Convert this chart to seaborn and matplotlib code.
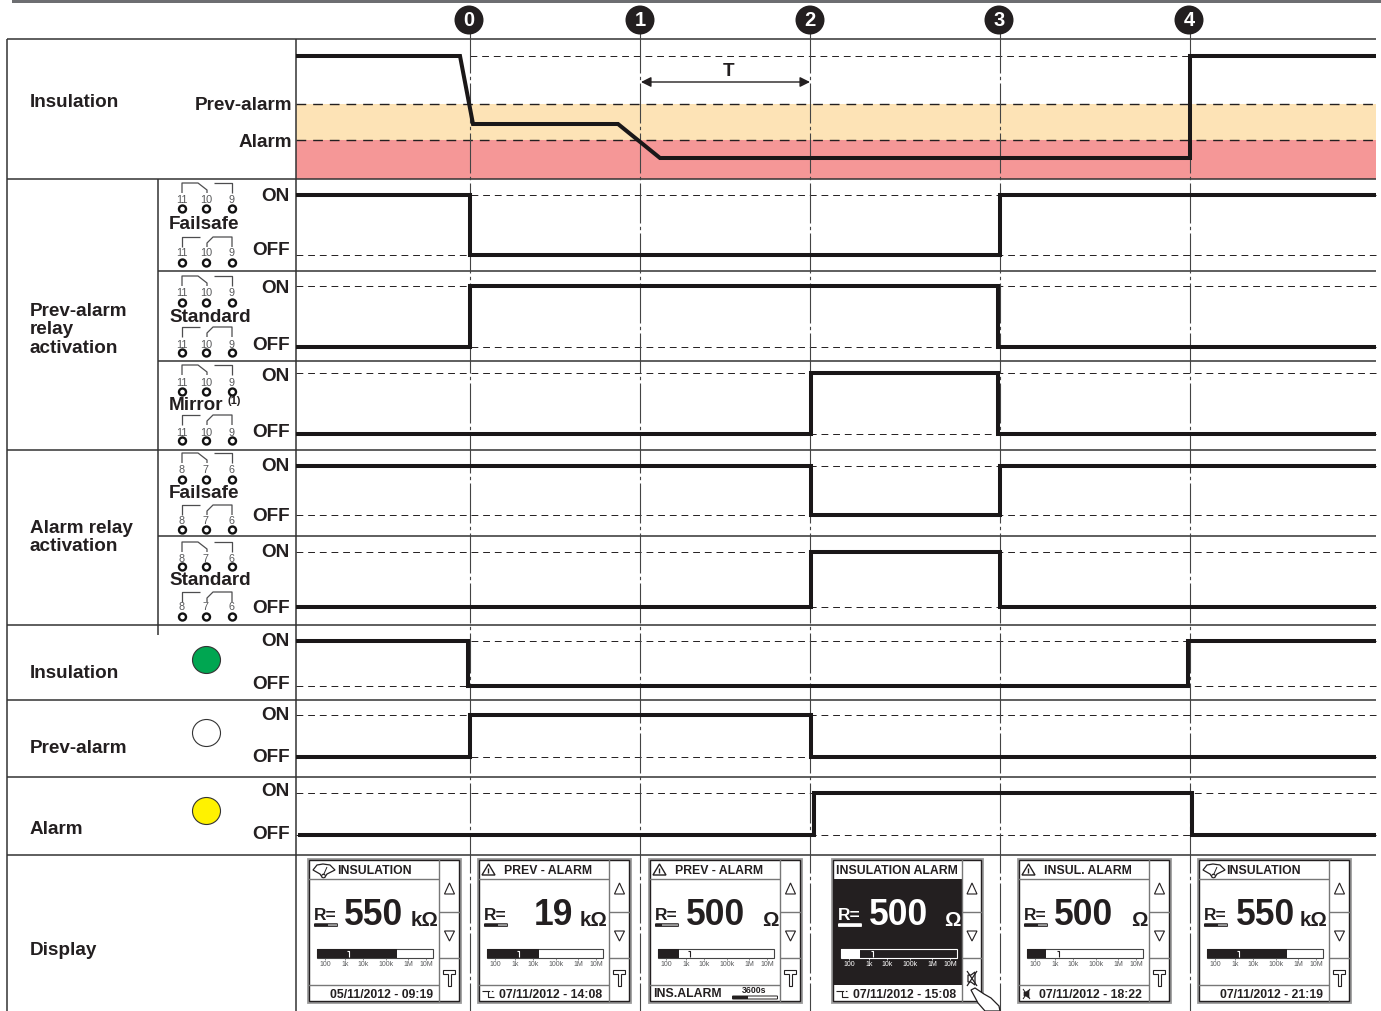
import matplotlib
matplotlib.use("Agg")
import matplotlib.pyplot as plt
from matplotlib.patches import Rectangle, Polygon, Circle, Ellipse, FancyBboxPatch
import pandas as pd
import seaborn as sns

# ---------------- data ----------------
event_labels = ["0", "1", "2", "3", "4"]
event_times = [470, 640, 810, 1000, 1190]

insulation_times = [296, 460, 473, 618, 660, 1190, 1190, 1376]
insulation_levels = [56, 56, 124, 124, 158, 158, 56, 56]

sig_names = ["prev_failsafe", "prev_standard", "prev_mirror", "alarm_failsafe",
             "alarm_standard", "led_insulation", "led_prev", "led_alarm"]
sig_edges = [[296, 470, 1000, 1376], [296, 470, 998, 1376], [296, 811, 998, 1376],
             [296, 811, 1000, 1376], [296, 811, 1000, 1376], [296, 468, 1188, 1376],
             [296, 470, 811, 1376], [298, 814, 1192, 1376]]
sig_states = [[1, 0, 1], [0, 1, 0], [0, 1, 0], [1, 0, 1], [0, 1, 0], [1, 0, 1], [0, 1, 0], [0, 1, 0]]

disp_titles = ["INSULATION", "PREV - ALARM", "PREV - ALARM", "INSULATION ALARM", "INSUL. ALARM", "INSULATION"]
disp_values = ["550", "19", "500", "500", "500", "550"]
disp_units = ["kΩ", "kΩ", "Ω", "Ω", "Ω", "kΩ"]
disp_dates = ["05/11/2012 - 09:19", "07/11/2012 - 14:08", "", "07/11/2012 - 15:08",
              "07/11/2012 - 18:22", "07/11/2012 - 21:19"]
disp_bar = [0.69, 0.445, 0.185, 0.165, 0.167, 0.69]
bar_ticks = ["100", "1k", "10k", "100k", "1M", "10M"]

# ---------------- layout ----------------
sns.set_theme(style="white")
plt.rcParams["font.family"] = ["Liberation Sans", "DejaVu Sans"]
INK = "#231f20"
fig, ax = plt.subplots(figsize=(13.81, 10.11), dpi=100)
ax.set_position([0, 0, 1, 1])
ax.set_xlim(0, 1381)
ax.set_ylim(1011, 0)
ax.axis("off")

sig_on = [195, 286, 373, 466, 552, 641, 715, 793]
sig_off = [255, 347, 434, 515, 607, 686, 757, 835]


def T(x, y, s, size=13.6, ha="left", va="center", color=INK, weight="bold", z=6, **kw):
    ax.text(x, y + 1.2, s, fontsize=size, ha=ha, va=va, color=color, fontweight=weight, zorder=z, **kw)


def L(xs, ys, color=INK, lw=1.0, z=3, **kw):
    ax.plot(xs, ys, color=color, lw=lw, zorder=z, solid_capstyle="butt", **kw)


# top bar
ax.add_patch(Rectangle((12, 0), 1369, 3, fc="#6d6e71", ec="none"))

# bands
ax.add_patch(Rectangle((296, 104), 1080, 36, fc="#fde3b6", ec="none", zorder=1))
ax.add_patch(Rectangle((296, 140), 1080, 39, fc="#f59797", ec="none", zorder=1))

# grid rules
for y, x0 in [(39, 7), (179, 7), (271, 158), (361, 158), (450, 7), (536, 158),
              (625, 7), (700, 7), (777, 7), (855, 7)]:
    L([x0, 1376], [y, y], lw=1.1, color="#333333")
for x, y0, y1 in [(7, 39, 1011), (158, 179, 635), (296, 39, 1011)]:
    L([x, x], [y0, y1], lw=1.1, color="#333333")

# reference dashed levels
dash = (0, (7, 5))
L([470, 1190], [56, 56], lw=0.7, ls=dash, z=2)
L([296, 1376], [104, 104], lw=1.0, ls=dash, z=2)
L([296, 1376], [140, 140], lw=1.0, ls=dash, z=2)
for on, off in zip(sig_on, sig_off):
    L([296, 1376], [on, on], lw=0.7, ls=dash, z=2)
    L([296, 1376], [off, off], lw=0.7, ls=dash, z=2)

# event lines + badges
for lab, x in zip(event_labels, event_times):
    L([x, x], [33, 1011], lw=0.8, color="#444444", ls=(0, (36, 3, 3, 3)), z=4)
    bx_ = x - (1 if x in (470, 1000, 1190) else 0)
    ax.add_patch(Circle((bx_, 20), 14.5, fc=INK, ec="none", zorder=6))
    T(bx_, 19.8, lab, size=14.5, ha="center", color="white", z=7)

# signals via seaborn
frames = [pd.DataFrame({"t": insulation_times, "v": insulation_levels, "name": "insulation"})]
for name, edges, states, on, off in zip(sig_names, sig_edges, sig_states, sig_on, sig_off):
    ts, vs = [], []
    for i, st in enumerate(states):
        ts += [edges[i], edges[i + 1]]
        vs += [on if st else off] * 2
    frames.append(pd.DataFrame({"t": ts, "v": vs, "name": name}))
for fr in frames:
    sns.lineplot(data=fr, x="t", y="v", estimator=None, sort=False, ax=ax, color="#1a1718",
                 lw=2.9, zorder=5, legend=False, solid_joinstyle="miter", solid_capstyle="butt")
ax.set_xlim(0, 1381)
ax.set_ylim(1011, 0)
ax.axis("off")

# T arrow
ax.annotate("", xy=(641, 82), xytext=(810, 82),
            arrowprops=dict(arrowstyle="<|-|>", color=INK, lw=1, mutation_scale=15, shrinkA=0, shrinkB=0), zorder=6)
T(729, 70.5, "T", size=13.6, ha="center")

# left labels
T(30, 101, "Insulation")
T(292, 104.5, "Prev-alarm", ha="right")
T(292, 141.5, "Alarm", ha="right")
for y, s in [(310, "Prev-alarm"), (328, "relay"), (347, "activation"), (527, "Alarm relay"),
             (545, "activation"), (672, "Insulation"), (747, "Prev-alarm"), (828, "Alarm"), (949, "Display")]:
    T(30, y, s)
for y in [195.5, 287.5, 375, 465.5, 551.5, 640.5, 714.5, 790.5]:
    T(290, y, "ON", ha="right")
for y in [249.5, 344, 431, 515.5, 607.5, 683.5, 756.5, 833.5]:
    T(290, y, "OFF", ha="right")
T(169, 223.5, "Failsafe"); T(169, 316.5, "Standard"); T(169, 404.5, "Mirror")
T(228, 400, "(1)", size=8)
T(169, 492.5, "Failsafe"); T(169, 579.5, "Standard")


# relay icons
def relay(top, lab_y, circ_y, labels, closed):
    g = "#4d4d4f"
    leg = top + 10
    if closed:
        L([182, 182, 198, 207, 207], [leg, top, top, top + 7, leg], color=g, lw=0.9)
        L([214, 232, 232], [top, top, leg], color=g, lw=0.9)
    else:
        L([182, 182, 200], [leg, top, top], color=g, lw=0.9)
        L([207, 207, 213, 232, 232], [leg, top + 6, top, top, leg], color=g, lw=0.9)
    for x, s in zip([182, 206, 232], labels):
        T(x, lab_y - 1, s, size=7.8, ha="center", color="#58595b", weight="normal")
        ax.add_patch(Circle((x + 0.5, circ_y), 3.5, fc="white", ec="#111111", lw=1.7, zorder=6))


a, b = ["11", "10", "9"], ["8", "7", "6"]
for top, ly, cy, labs, st in [(183, 200, 209, a, True), (237, 253, 263, a, False),
                              (276, 293, 303, a, True), (327, 345, 353, a, False),
                              (365, 383, 392, a, True), (415, 433, 441, a, False),
                              (453, 470, 480, b, True), (505, 521, 530, b, False),
                              (542, 559, 567, b, True), (592, 607, 617, b, False)]:
    relay(top, ly, cy, labs, st)

# LEDs
for y, c in [(660, "#00a651"), (733, "white"), (811, "#fff200")]:
    ax.add_patch(Ellipse((206.5, y), 28, 27, fc=c, ec="#333333", lw=0.8, zorder=6))

# displays
lefts = [308, 478, 649, 832, 1018, 1198]
title_dx = [30, 27, 27, 5, 27, 29]
val_x = [345, 535, 687, 870, 1055, 1237]
unit_x = [412, 581, 763, 945, 1132, 1301]
date_dx = [22, 21, 0, 21, 21, 22]
tick_dx = [8, 28, 46, 69, 91, 109]
Z = 7
for i, x0 in enumerate(lefts):
    W, col = (150, 130) if i == 3 else (152, 131)
    top, bot, hdr, ftr = 859, 1002, 879, 985
    dark = i == 3
    fg = "white" if dark else INK
    ax.add_patch(Rectangle((x0, top), W, bot - top, fc="white", ec="#9a9a9a", lw=2.0, zorder=Z - 1))
    ax.add_patch(Rectangle((x0 + 1, top + 1), W - 2, bot - top - 2, fc="white", ec="#231f20", lw=1.0, zorder=Z - 1))
    if dark:
        ax.add_patch(Rectangle((x0 + 2, hdr), col - 2, ftr - hdr, fc=INK, ec="none", zorder=Z - 1))
    else:
        L([x0, x0 + col], [hdr, hdr], color="#777777", lw=1, z=Z)
        L([x0, x0 + col], [ftr, ftr], color="#777777", lw=1, z=Z)
    L([x0 + col, x0 + col], [top, bot], color="#777777", lw=1, z=Z)
    for y in (912, 958):
        L([x0 + col, x0 + W], [y, y], color="#777777", lw=1, z=Z)
    # title
    T(x0 + title_dx[i] - 1, 869.5, disp_titles[i], size=8.8, z=Z + 1)
    if disp_titles[i] == "INSULATION":
        ax.add_patch(Polygon([(x0 + 5, 870), (x0 + 9, 865), (x0 + 15, 864), (x0 + 22, 865), (x0 + 27, 870),
                              (x0 + 19, 874), (x0 + 17, 877), (x0 + 14, 877), (x0 + 12, 874)], closed=True,
                             fc="white", ec=INK, lw=0.9, zorder=Z + 1))
        ax.add_patch(Circle((x0 + 15.5, 876), 1.8, fc="white", ec=INK, lw=0.8, zorder=Z + 1))
        L([x0 + 15.5, x0 + 19], [875, 867], lw=0.7, z=Z + 1)
    elif not dark:
        ax.add_patch(Polygon([(x0 + 4, 875), (x0 + 10.5, 864), (x0 + 17, 875)], closed=True, fc="white", ec=INK,
                             lw=1.0, zorder=Z + 1))
        L([x0 + 10.5, x0 + 10.5], [868, 872.5], lw=1, z=Z + 1)
    # readout
    T(x0 + 6, 914.5, "R=", size=12.5, color=fg, z=Z + 1)
    ax.add_patch(FancyBboxPatch((x0 + 7, 924.3), 22, 1.6, boxstyle="round,pad=0.6", fc="#9a9a9a" if not dark else "white",
                                ec=fg, lw=0.6, zorder=Z + 1))
    ax.add_patch(Rectangle((x0 + 6.5, 924), 14 if i != 2 else 7, 2.4, fc=fg, ec="none", zorder=Z + 1))
    T(val_x[i] - 1, 914, disp_values[i], size=25.6, color=fg, z=Z + 1)
    T(unit_x[i] - 1, 919, disp_units[i], size=14.8, color=fg, z=Z + 1)
    # log bar
    bx, bw = x0 + 9, 116
    ax.add_patch(Rectangle((bx, 949), bw, 9, fc="white" if not dark else INK, ec=fg if dark else "#444444", lw=0.8, zorder=Z))
    ax.add_patch(Rectangle((bx, 949), bw * disp_bar[i], 9, fc="white" if dark else INK, ec="none", zorder=Z))
    mark = "white" if (disp_bar[i] > 0.27 or dark) else INK
    L([bx + 30, bx + 32, bx + 32], [951, 951, 957], color=mark, lw=0.8, z=Z + 1)
    for dx, s in zip(tick_dx, bar_ticks):
        T(bx + dx, 963.5, s, size=5, ha="center", color="white" if dark else "#58595b", weight="normal", z=Z + 1)
        L([bx + dx, bx + dx], [958, 960], color="white" if dark else "#58595b", lw=0.5, z=Z + 1)
    # buttons
    cx = x0 + col + (W - col) / 2
    ax.add_patch(Polygon([(cx - 5, 894), (cx, 883), (cx + 5, 894)], closed=True, fc="white", ec=INK, lw=0.8, zorder=Z + 1))
    ax.add_patch(Polygon([(cx - 5, 931), (cx, 941), (cx + 5, 931)], closed=True, fc="white", ec=INK, lw=0.8, zorder=Z + 1))
    if dark:
        ax.add_patch(Polygon([(cx - 4, 975), (cx - 1, 975), (cx + 3, 972), (cx + 3, 985), (cx - 1, 982), (cx - 4, 982)],
                             closed=True, fc="white", ec=INK, lw=0.9, zorder=Z + 1))
        L([cx - 5, cx + 5], [971, 986], lw=0.9, z=Z + 2)
        L([cx - 5, cx + 5], [986, 971], lw=0.9, z=Z + 2)
    else:
        ax.add_patch(Polygon([(cx - 6, 970), (cx + 6, 970), (cx + 6, 974), (cx + 1.5, 974), (cx + 1.5, 986),
                              (cx - 1.5, 986), (cx - 1.5, 974), (cx - 6, 974)], closed=True, fc="white", ec=INK,
                             lw=0.8, zorder=Z + 1))
    # footer
    if disp_dates[i]:
        T(x0 + date_dx[i], 994, disp_dates[i], size=8.8, z=Z + 1)
    if i in (1, 3):
        L([x0 + 4, x0 + 10, x0 + 10, x0 + 16], [991, 991, 997, 997], lw=0.8, z=Z + 1)
        L([x0 + 10, x0 + 16], [991, 991], lw=0.8, z=Z + 1, ls=(0, (1.5, 1.5)))
    if i == 4:
        ax.add_patch(Polygon([(x0 + 6, 992), (x0 + 8, 992), (x0 + 11, 990), (x0 + 11, 998), (x0 + 8, 996), (x0 + 6, 996)],
                             closed=True, fc=INK, ec=INK, lw=0.5, zorder=Z + 1))
        L([x0 + 5, x0 + 12], [989, 999], lw=0.7, z=Z + 1)
        L([x0 + 5, x0 + 12], [999, 989], lw=0.7, z=Z + 1)
    if i == 2:
        T(x0 + 4, 992.5, "INS.ALARM", size=8.8, z=Z + 1)
        T(x0 + 105, 989.5, "3600s", size=6.3, ha="center", z=Z + 1)
        ax.add_patch(FancyBboxPatch((x0 + 84, 996.5), 44, 2, boxstyle="round,pad=0.5", fc="white", ec=INK, lw=0.7, zorder=Z + 1))
        ax.add_patch(Rectangle((x0 + 84, 996), 15, 3, fc=INK, ec="none", zorder=Z + 1))

# pointing finger on the fourth display
ax.add_patch(Polygon([(971, 990), (975, 988), (984, 994), (991, 998), (999, 1006), (1000, 1011), (985, 1011),
                      (978, 1003)], closed=True, fc="white", ec=INK, lw=0.9, zorder=Z + 3))

fig.savefig("out.png", dpi=100, facecolor="white")
